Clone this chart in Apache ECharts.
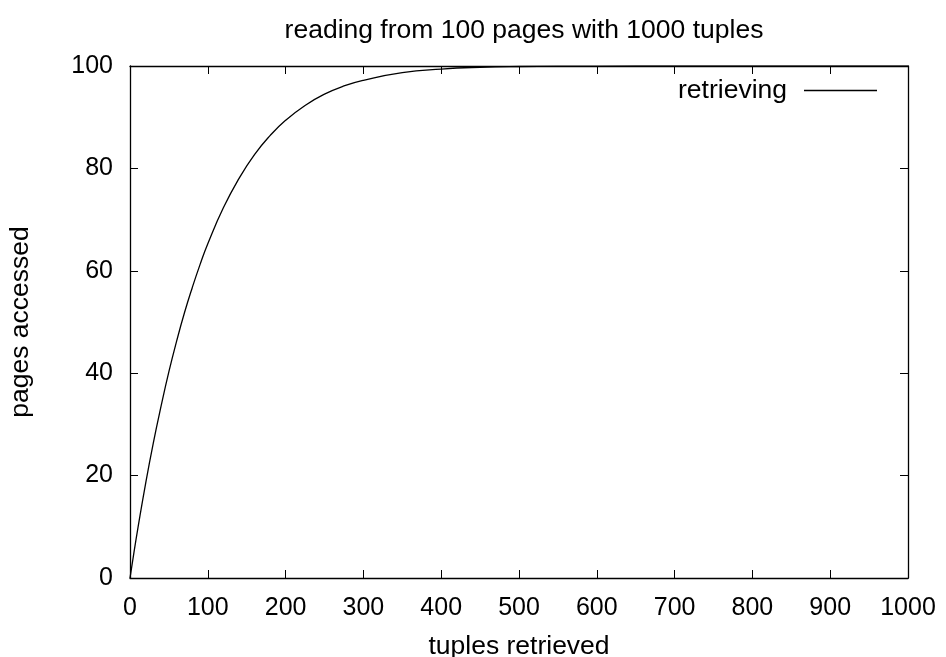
<!DOCTYPE html>
<html>
<head>
<meta charset="utf-8">
<style>
html,body{margin:0;padding:0;background:#fff;}
#chart{width:946px;height:657px;}
</style>
<script src="https://cdn.jsdelivr.net/npm/echarts@6/dist/echarts.min.js"></script>
</head>
<body>
<div id="chart"></div>
<script>
var titleText = 'reading from 100 pages with 1000 tuples';
var xName = 'tuples retrieved';
var yName = 'pages accessed';
var seriesName = 'retrieving';
var xTicks = [0, 100, 200, 300, 400, 500, 600, 700, 800, 900, 1000];
var yTicks = [0, 20, 40, 60, 80, 100];
var tuples = [0, 5, 10, 20, 30, 40, 50, 60, 70, 80, 90, 100, 120, 140, 160, 180, 200, 225, 250, 275, 300, 350, 400, 450, 500, 600, 700, 800, 900, 1000];
var pages  = [0, 4.9, 9.6, 18.4, 26.4, 33.6, 40.3, 46.3, 51.8, 56.7, 61.2, 65.3, 72.3, 78.0, 82.7, 86.4, 89.4, 92.3, 94.5, 96.1, 97.2, 98.7, 99.4, 99.76, 99.9, 99.99, 100, 100, 100, 100];

var FONT = '"Liberation Sans", Arial, Helvetica, sans-serif';
var TICKFS = 25;
var TEXTFS = 26.5;
var points = tuples.map(function (t, i) { return [t, pages[i]]; });

function axisLine() { return {show: true, onZero: false, lineStyle: {color: '#000', width: 1.3}}; }
function axisTick() { return {show: true, inside: true, length: 8, lineStyle: {color: '#000', width: 1}}; }

var chart = echarts.init(document.getElementById('chart'), null, {renderer: 'canvas'});
chart.setOption({
  animation: false,
  backgroundColor: '#fff',
  title: {
    text: titleText,
    left: 519, top: 12, textAlign: 'center',
    textStyle: {fontFamily: FONT, fontSize: TEXTFS, fontWeight: 'normal', color: '#000'}
  },
  legend: {
    data: [seriesName],
    right: 64, top: 72,
    align: 'right',
    icon: 'rect',
    itemWidth: 73, itemHeight: 1.4,
    textStyle: {fontFamily: FONT, fontSize: TEXTFS, color: '#000', padding: [0, 12, 0, 0]},
    itemStyle: {color: '#000'}
  },
  grid: {left: 130, right: 38, top: 66, bottom: 79, containLabel: false, outerBoundsMode: 'none'},
  xAxis: [{
    type: 'value', min: 0, max: 1000, interval: 100, position: 'bottom',
    name: xName, nameLocation: 'middle', nameGap: 55,
    nameTextStyle: {fontFamily: FONT, fontSize: TEXTFS, color: '#000'},
    axisLine: axisLine(), axisTick: axisTick(), splitLine: {show: false},
    axisLabel: {fontFamily: FONT, fontSize: TICKFS, color: '#000', margin: 18,
      formatter: function (v) { return xTicks.indexOf(v) >= 0 ? String(v) : ''; }}
  }, {
    type: 'value', min: 0, max: 1000, interval: 100, position: 'top',
    axisLine: axisLine(), axisTick: axisTick(), splitLine: {show: false},
    axisLabel: {show: false}
  }],
  yAxis: [{
    type: 'value', min: 0, max: 100, interval: 20, position: 'left',
    name: yName, nameLocation: 'middle', nameGap: 96, nameRotate: 90,
    nameTextStyle: {fontFamily: FONT, fontSize: TEXTFS, color: '#000'},
    axisLine: axisLine(), axisTick: axisTick(), splitLine: {show: false},
    axisLabel: {fontFamily: FONT, fontSize: TICKFS, color: '#000', margin: 17,
      formatter: function (v) { return yTicks.indexOf(v) >= 0 ? String(v) : ''; }}
  }, {
    type: 'value', min: 0, max: 100, interval: 20, position: 'right',
    axisLine: axisLine(), axisTick: axisTick(), splitLine: {show: false},
    axisLabel: {show: false}
  }],
  series: [{
    name: seriesName,
    type: 'line',
    xAxisIndex: 0, yAxisIndex: 0,
    data: points,
    smooth: true,
    showSymbol: false,
    lineStyle: {color: '#000', width: 1.3},
    itemStyle: {color: '#000'}
  }]
});
</script>
</body>
</html>
